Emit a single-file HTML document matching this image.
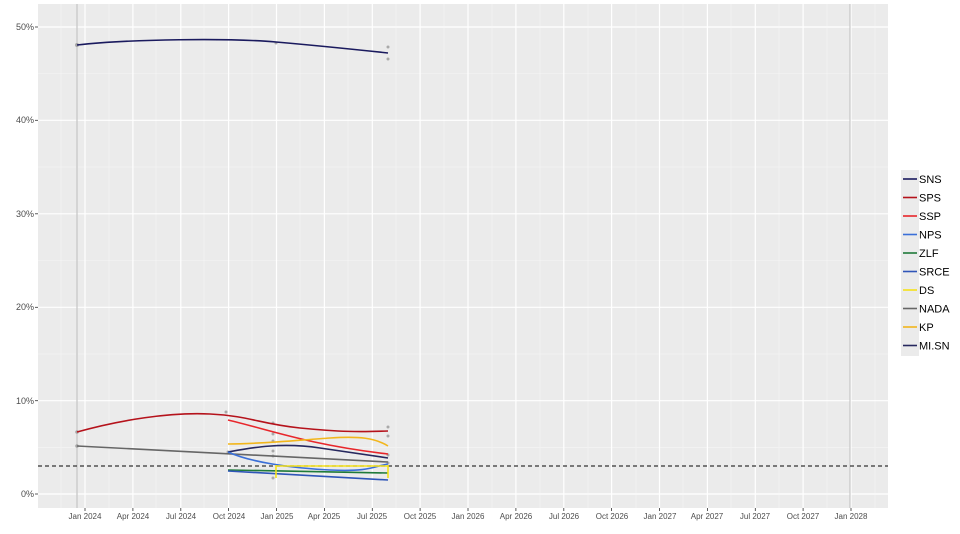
<!DOCTYPE html>
<html><head><meta charset="utf-8"><style>
html,body{margin:0;padding:0;background:#fff;}
svg{display:block;font-family:"Liberation Sans",Arial,sans-serif;}
</style></head><body>
<svg width="960" height="534" viewBox="0 0 960 534">
<rect x="38" y="4" width="850" height="504" fill="#ebebeb"/>
<g stroke="#f5f5f5" stroke-width="0.6">
<line x1="38" x2="888" y1="447.3" y2="447.3"/><line x1="38" x2="888" y1="354" y2="354"/>
<line x1="38" x2="888" y1="260.5" y2="260.5"/><line x1="38" x2="888" y1="167" y2="167"/>
<line x1="38" x2="888" y1="73.5" y2="73.5"/>
<line x1="61" x2="61" y1="4" y2="508"/>
<line x1="109" x2="109" y1="4" y2="508"/><line x1="156" x2="156" y1="4" y2="508"/>
<line x1="204" x2="204" y1="4" y2="508"/><line x1="252" x2="252" y1="4" y2="508"/>
<line x1="300" x2="300" y1="4" y2="508"/><line x1="348" x2="348" y1="4" y2="508"/>
<line x1="396" x2="396" y1="4" y2="508"/><line x1="444" x2="444" y1="4" y2="508"/>
<line x1="492" x2="492" y1="4" y2="508"/><line x1="540" x2="540" y1="4" y2="508"/>
<line x1="588" x2="588" y1="4" y2="508"/><line x1="636" x2="636" y1="4" y2="508"/>
<line x1="683" x2="683" y1="4" y2="508"/><line x1="731" x2="731" y1="4" y2="508"/>
<line x1="779" x2="779" y1="4" y2="508"/><line x1="827" x2="827" y1="4" y2="508"/>
<line x1="875" x2="875" y1="4" y2="508"/>
</g>
<g stroke="#fff" stroke-width="1.2">
<line x1="38" x2="888" y1="494" y2="494"/><line x1="38" x2="888" y1="400.7" y2="400.7"/>
<line x1="38" x2="888" y1="307.3" y2="307.3"/><line x1="38" x2="888" y1="213.8" y2="213.8"/>
<line x1="38" x2="888" y1="120.3" y2="120.3"/><line x1="38" x2="888" y1="27" y2="27"/>
<line x1="85" x2="85" y1="4" y2="508"/><line x1="132.9" x2="132.9" y1="4" y2="508"/>
<line x1="180.8" x2="180.8" y1="4" y2="508"/><line x1="228.6" x2="228.6" y1="4" y2="508"/>
<line x1="276.5" x2="276.5" y1="4" y2="508"/><line x1="324.4" x2="324.4" y1="4" y2="508"/>
<line x1="372.3" x2="372.3" y1="4" y2="508"/><line x1="420.1" x2="420.1" y1="4" y2="508"/>
<line x1="468" x2="468" y1="4" y2="508"/><line x1="515.9" x2="515.9" y1="4" y2="508"/>
<line x1="563.8" x2="563.8" y1="4" y2="508"/><line x1="611.6" x2="611.6" y1="4" y2="508"/>
<line x1="659.5" x2="659.5" y1="4" y2="508"/><line x1="707.4" x2="707.4" y1="4" y2="508"/>
<line x1="755.3" x2="755.3" y1="4" y2="508"/><line x1="803.1" x2="803.1" y1="4" y2="508"/>
<line x1="851" x2="851" y1="4" y2="508"/>
</g>
<line x1="77" x2="77" y1="4" y2="508" stroke="#c4c4c4" stroke-width="1.2"/>
<line x1="850" x2="850" y1="4" y2="508" stroke="#bdbdbd" stroke-width="1"/>
<line x1="38" x2="888" y1="466" y2="466" stroke="#333" stroke-width="1.2" stroke-dasharray="4,3"/>
<!-- points -->
<g fill="#999" opacity="0.8">
<circle cx="77" cy="45" r="2"/><circle cx="276" cy="43" r="1.5"/><circle cx="388" cy="47" r="1.5"/><circle cx="388" cy="59" r="1.5"/>
<circle cx="77" cy="432" r="1.8"/><circle cx="226" cy="412" r="1.5"/><circle cx="273" cy="423" r="1.5"/><circle cx="273" cy="434" r="1.5"/>
<circle cx="388" cy="427" r="1.5"/><circle cx="388" cy="436" r="1.5"/><circle cx="273" cy="441" r="1.5"/><circle cx="273" cy="451" r="1.5"/>
<circle cx="273" cy="456" r="1.5"/><circle cx="273" cy="478" r="1.5"/><circle cx="388" cy="455" r="1.5"/><circle cx="388" cy="463" r="1.5"/>
<circle cx="77" cy="446" r="1.8"/><circle cx="228" cy="452" r="1.5"/>
</g>
<g fill="none" stroke-width="1.6">
<path d="M77,45 C130,39 230,38 276,42 S360,50 388,53" stroke="#1a1a5e"/>
<path d="M77,432 C120,420 170,412 210,414 S260,424 300,428 S360,432 388,431" stroke="#b5121b"/>
<path d="M228,420 C270,430 310,445 388,454" stroke="#e8262b"/>
<path d="M228,444 C260,444 300,440 330,438 S375,438 388,446" stroke="#f2b61c"/>
<path d="M228,452 C250,448 280,442 320,448 S375,456 388,458" stroke="#26285e"/>
<path d="M77,446 L388,462" stroke="#666"/>
<path d="M228,452 C250,462 290,468 330,470 S375,466 388,464" stroke="#3a6fd8"/>
<path d="M228,470 L388,473" stroke="#1f7a3a"/>
<path d="M228,471 L388,480" stroke="#2f55b8"/>
<path d="M276,466 L388,466 M276,465 L276,478 M388,465 L388,478" stroke="#f5e11a"/>
</g>
<!-- y labels -->
<g font-size="9" fill="#4d4d4d" text-anchor="end">
<text x="34" y="497">0%</text><text x="34" y="404">10%</text><text x="34" y="310">20%</text>
<text x="34" y="217">30%</text><text x="34" y="123">40%</text><text x="34" y="30">50%</text>
</g>
<g stroke="#333" stroke-width="0.8">
<line x1="35" x2="38" y1="494" y2="494"/><line x1="35" x2="38" y1="400.7" y2="400.7"/>
<line x1="35" x2="38" y1="307.3" y2="307.3"/><line x1="35" x2="38" y1="213.8" y2="213.8"/>
<line x1="35" x2="38" y1="120.3" y2="120.3"/><line x1="35" x2="38" y1="27" y2="27"/>
</g>
<g font-size="8" fill="#4d4d4d" text-anchor="middle">
<text x="85" y="519">Jan 2024</text><text x="133" y="519">Apr 2024</text><text x="181" y="519">Jul 2024</text>
<text x="229" y="519">Oct 2024</text><text x="277" y="519">Jan 2025</text><text x="324" y="519">Apr 2025</text>
<text x="372" y="519">Jul 2025</text><text x="420" y="519">Oct 2025</text><text x="468" y="519">Jan 2026</text>
<text x="516" y="519">Apr 2026</text><text x="564" y="519">Jul 2026</text><text x="612" y="519">Oct 2026</text>
<text x="660" y="519">Jan 2027</text><text x="707" y="519">Apr 2027</text><text x="755" y="519">Jul 2027</text>
<text x="803" y="519">Oct 2027</text><text x="851" y="519">Jan 2028</text>
</g>
<g stroke="#333" stroke-width="0.8">
<path d="M85,508v3M132.9,508v3M180.8,508v3M228.6,508v3M276.5,508v3M324.4,508v3M372.3,508v3M420.1,508v3M468,508v3M515.9,508v3M563.8,508v3M611.6,508v3M659.5,508v3M707.4,508v3M755.3,508v3M803.1,508v3M851,508v3"/>
</g>
<!-- legend -->
<rect x="901" y="170" width="18" height="186" fill="#ebebeb"/>
<g stroke-width="1.6">
<line x1="903" x2="917" y1="179" y2="179" stroke="#1a1a5e"/>
<line x1="903" x2="917" y1="197.5" y2="197.5" stroke="#b5121b"/>
<line x1="903" x2="917" y1="216" y2="216" stroke="#e8262b"/>
<line x1="903" x2="917" y1="234.5" y2="234.5" stroke="#3a6fd8"/>
<line x1="903" x2="917" y1="253" y2="253" stroke="#1f7a3a"/>
<line x1="903" x2="917" y1="271.5" y2="271.5" stroke="#2f55b8"/>
<line x1="903" x2="917" y1="290" y2="290" stroke="#f5e11a"/>
<line x1="903" x2="917" y1="308.5" y2="308.5" stroke="#666"/>
<line x1="903" x2="917" y1="327" y2="327" stroke="#f2b61c"/>
<line x1="903" x2="917" y1="345.5" y2="345.5" stroke="#26285e"/>
</g>
<g font-size="11" fill="#000">
<text x="919" y="183">SNS</text><text x="919" y="201.5">SPS</text><text x="919" y="220">SSP</text>
<text x="919" y="238.5">NPS</text><text x="919" y="257">ZLF</text><text x="919" y="275.5">SRCE</text>
<text x="919" y="294">DS</text><text x="919" y="312.5">NADA</text><text x="919" y="331">KP</text>
<text x="919" y="349.5">MI.SN</text>
</g>
</svg>
</body></html>
